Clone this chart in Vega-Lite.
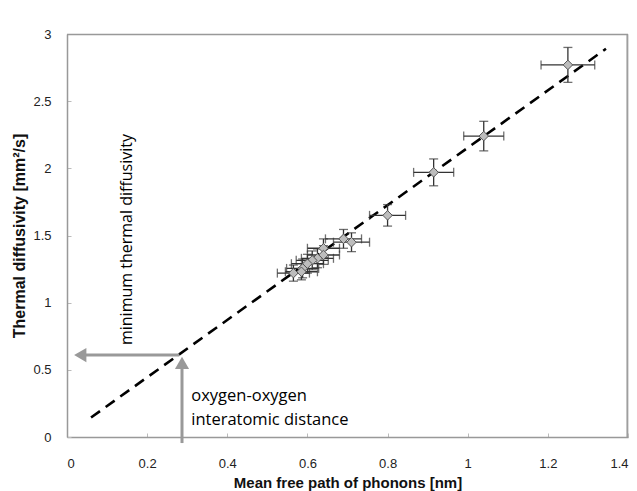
{
  "$schema": "https://vega.github.io/schema/vega-lite/v6.json",
  "width": 561,
  "height": 403,
  "autosize": {"type": "none"},
  "padding": {"left": 67, "top": 34, "right": 9, "bottom": 54},
  "background": "white",
  "config": {
    "font": "Liberation Sans",
    "axis": {
      "grid": false,
      "domainColor": "#999",
      "domainWidth": 1.5,
      "tickColor": "#bbb",
      "tickSize": -4,
      "labelFont": "Liberation Sans",
      "labelFontSize": 13,
      "labelColor": "#222",
      "titleFont": "Liberation Sans",
      "titleFontWeight": "bold",
      "titleColor": "#111"
    }
  },
  "datasets": {
    "pts": [
      {"x": 1.25, "y": 2.77, "xlo": 1.183, "xhi": 1.317, "ylo": 2.64, "yhi": 2.90},
      {"x": 1.04, "y": 2.24, "xlo": 0.99, "xhi": 1.09, "ylo": 2.13, "yhi": 2.35},
      {"x": 0.915, "y": 1.97, "xlo": 0.865, "xhi": 0.965, "ylo": 1.87, "yhi": 2.07},
      {"x": 0.80, "y": 1.65, "xlo": 0.755, "xhi": 0.845, "ylo": 1.57, "yhi": 1.73},
      {"x": 0.71, "y": 1.45, "xlo": 0.665, "xhi": 0.755, "ylo": 1.38, "yhi": 1.52},
      {"x": 0.69, "y": 1.475, "xlo": 0.645, "xhi": 0.735, "ylo": 1.405, "yhi": 1.545},
      {"x": 0.64, "y": 1.405, "xlo": 0.60, "xhi": 0.68, "ylo": 1.335, "yhi": 1.475},
      {"x": 0.64, "y": 1.355, "xlo": 0.60, "xhi": 0.68, "ylo": 1.285, "yhi": 1.425},
      {"x": 0.625, "y": 1.33, "xlo": 0.585, "xhi": 0.665, "ylo": 1.26, "yhi": 1.40},
      {"x": 0.612, "y": 1.315, "xlo": 0.572, "xhi": 0.652, "ylo": 1.245, "yhi": 1.385},
      {"x": 0.60, "y": 1.29, "xlo": 0.56, "xhi": 0.64, "ylo": 1.22, "yhi": 1.36},
      {"x": 0.588, "y": 1.255, "xlo": 0.548, "xhi": 0.628, "ylo": 1.185, "yhi": 1.325},
      {"x": 0.585, "y": 1.23, "xlo": 0.545, "xhi": 0.625, "ylo": 1.17, "yhi": 1.29},
      {"x": 0.565, "y": 1.22, "xlo": 0.525, "xhi": 0.605, "ylo": 1.16, "yhi": 1.28}
    ],
    "fit": [
      {"x": 0.06, "y": 0.145},
      {"x": 1.345, "y": 2.89}
    ]
  },
  "layer": [
    {
      "data": {"name": "fit"},
      "mark": {"type": "line", "color": "black", "strokeWidth": 2.6, "strokeDash": [11, 7]},
      "encoding": {
        "x": {"field": "x", "type": "quantitative", "scale": {"domain": [0, 1.4]},
          "axis": {"values": [0, 0.2, 0.4, 0.6, 0.8, 1, 1.2, 1.4], "format": "~g", "labelPadding": 24, "title": "Mean free path of phonons [nm]", "titleFontSize": 15, "titlePadding": 5}},
        "y": {"field": "y", "type": "quantitative", "scale": {"domain": [0, 3]},
          "axis": {"values": [0, 0.5, 1, 1.5, 2, 2.5, 3], "format": "~g", "labelPadding": 20, "title": "Thermal diffusivity [mm²/s]", "titleFontSize": 16, "titlePadding": 5}}
      }
    },
    {
      "data": {"name": "pts"},
      "mark": {"type": "rule", "color": "#333", "strokeWidth": 1.3},
      "encoding": {
        "x": {"field": "xlo", "type": "quantitative"},
        "x2": {"field": "xhi"},
        "y": {"field": "y", "type": "quantitative"}
      }
    },
    {
      "data": {"name": "pts"},
      "mark": {"type": "rule", "color": "#333", "strokeWidth": 1.3},
      "encoding": {
        "x": {"field": "x", "type": "quantitative"},
        "y": {"field": "ylo", "type": "quantitative"},
        "y2": {"field": "yhi"}
      }
    },
    {
      "data": {"name": "pts"},
      "mark": {"type": "tick", "orient": "vertical", "color": "#333", "thickness": 1.3, "size": 9},
      "encoding": {"x": {"field": "xlo", "type": "quantitative"}, "y": {"field": "y", "type": "quantitative"}}
    },
    {
      "data": {"name": "pts"},
      "mark": {"type": "tick", "orient": "vertical", "color": "#333", "thickness": 1.3, "size": 9},
      "encoding": {"x": {"field": "xhi", "type": "quantitative"}, "y": {"field": "y", "type": "quantitative"}}
    },
    {
      "data": {"name": "pts"},
      "mark": {"type": "tick", "orient": "horizontal", "color": "#333", "thickness": 1.3, "size": 9},
      "encoding": {"x": {"field": "x", "type": "quantitative"}, "y": {"field": "ylo", "type": "quantitative"}}
    },
    {
      "data": {"name": "pts"},
      "mark": {"type": "tick", "orient": "horizontal", "color": "#333", "thickness": 1.3, "size": 9},
      "encoding": {"x": {"field": "x", "type": "quantitative"}, "y": {"field": "yhi", "type": "quantitative"}}
    },
    {
      "data": {"name": "pts"},
      "mark": {"type": "point", "shape": "diamond", "filled": true, "fill": "#bdbdbd", "stroke": "#555", "strokeWidth": 1, "size": 90, "opacity": 1},
      "encoding": {"x": {"field": "x", "type": "quantitative"}, "y": {"field": "y", "type": "quantitative"}}
    },
    {
      "data": {"values": [{"x": 0, "x2": 1.4, "y": 2.997}]},
      "mark": {"type": "rule", "color": "#999", "strokeWidth": 1.5},
      "encoding": {"x": {"field": "x", "type": "quantitative"}, "x2": {"field": "x2"}, "y": {"field": "y", "type": "quantitative"}}
    },
    {
      "data": {"values": [{"x": 1.398, "y": 0, "y2": 3}]},
      "mark": {"type": "rule", "color": "#999", "strokeWidth": 1.5},
      "encoding": {"x": {"field": "x", "type": "quantitative"}, "y": {"field": "y", "type": "quantitative"}, "y2": {"field": "y2"}}
    },
    {
      "data": {"values": [{"x": 0.035, "x2": 0.28, "y": 0.61}]},
      "mark": {"type": "rule", "color": "#999", "strokeWidth": 3},
      "encoding": {"x": {"field": "x", "type": "quantitative"}, "x2": {"field": "x2"}, "y": {"field": "y", "type": "quantitative"}}
    },
    {
      "data": {"values": [{"x": 0.033, "y": 0.61}]},
      "mark": {"type": "point", "shape": "triangle-left", "filled": true, "color": "#999", "size": 200, "opacity": 1},
      "encoding": {"x": {"field": "x", "type": "quantitative"}, "y": {"field": "y", "type": "quantitative"}}
    },
    {
      "data": {"values": [{"x": 0.287, "y": -0.045, "y2": 0.55}]},
      "mark": {"type": "rule", "color": "#999", "strokeWidth": 3, "clip": false},
      "encoding": {"x": {"field": "x", "type": "quantitative"}, "y": {"field": "y", "type": "quantitative"}, "y2": {"field": "y2"}}
    },
    {
      "data": {"values": [{"x": 0.287, "y": 0.552}]},
      "mark": {"type": "point", "shape": "triangle-up", "filled": true, "color": "#999", "size": 200, "opacity": 1},
      "encoding": {"x": {"field": "x", "type": "quantitative"}, "y": {"field": "y", "type": "quantitative"}}
    },
    {
      "data": {"values": [{"x": 0.15, "y": 1.47, "t": "minimum thermal diffusivity"}]},
      "mark": {"type": "text", "angle": 270, "font": "Open Sans", "fontSize": 16, "color": "#000", "align": "center", "baseline": "middle"},
      "encoding": {"x": {"field": "x", "type": "quantitative"}, "y": {"field": "y", "type": "quantitative"}, "text": {"field": "t"}}
    },
    {
      "data": {"values": [{"x": 0.31, "y": 0.305, "t": "oxygen-oxygen"}, {"x": 0.31, "y": 0.125, "t": "interatomic distance"}]},
      "mark": {"type": "text", "font": "Open Sans", "fontSize": 16.5, "color": "#000", "align": "left", "baseline": "middle"},
      "encoding": {"x": {"field": "x", "type": "quantitative"}, "y": {"field": "y", "type": "quantitative"}, "text": {"field": "t"}}
    }
  ]
}
